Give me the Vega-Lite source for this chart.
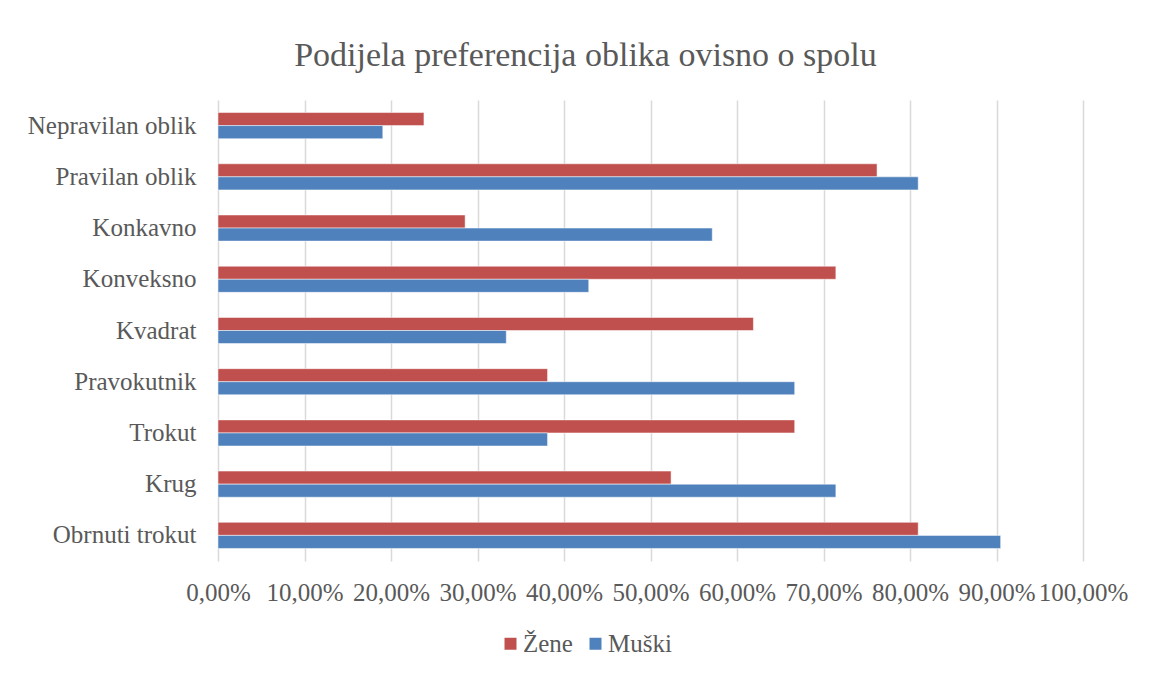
{
  "$schema": "https://vega.github.io/schema/vega-lite/v6.json",
  "autosize": {"type": "none"},
  "width": 865,
  "height": 461,
  "padding": {"left": 218, "top": 100, "right": 67, "bottom": 116},
  "background": "white",
  "title": {
    "text": "Podijela preferencija oblika ovisno o spolu",
    "font": "Liberation Serif",
    "fontSize": 34,
    "fontWeight": "normal",
    "color": "#595959",
    "anchor": "middle",
    "frame": "group",
    "dx": -65,
    "offset": 27
  },
  "data": {
    "values": [
      {"oblik": "Nepravilan oblik", "spol": "Žene", "vrijednost": 0.2381},
      {"oblik": "Nepravilan oblik", "spol": "Muški", "vrijednost": 0.1905},
      {"oblik": "Pravilan oblik", "spol": "Žene", "vrijednost": 0.7619},
      {"oblik": "Pravilan oblik", "spol": "Muški", "vrijednost": 0.8095},
      {"oblik": "Konkavno", "spol": "Žene", "vrijednost": 0.2857},
      {"oblik": "Konkavno", "spol": "Muški", "vrijednost": 0.5714},
      {"oblik": "Konveksno", "spol": "Žene", "vrijednost": 0.7143},
      {"oblik": "Konveksno", "spol": "Muški", "vrijednost": 0.4286},
      {"oblik": "Kvadrat", "spol": "Žene", "vrijednost": 0.619},
      {"oblik": "Kvadrat", "spol": "Muški", "vrijednost": 0.3333},
      {"oblik": "Pravokutnik", "spol": "Žene", "vrijednost": 0.381},
      {"oblik": "Pravokutnik", "spol": "Muški", "vrijednost": 0.6667},
      {"oblik": "Trokut", "spol": "Žene", "vrijednost": 0.6667},
      {"oblik": "Trokut", "spol": "Muški", "vrijednost": 0.381},
      {"oblik": "Krug", "spol": "Žene", "vrijednost": 0.5238},
      {"oblik": "Krug", "spol": "Muški", "vrijednost": 0.7143},
      {"oblik": "Obrnuti trokut", "spol": "Žene", "vrijednost": 0.8095},
      {"oblik": "Obrnuti trokut", "spol": "Muški", "vrijednost": 0.9048}
    ]
  },
  "mark": {"type": "bar", "stroke": "white", "strokeWidth": 0.5},
  "encoding": {
    "y": {
      "field": "oblik",
      "type": "nominal",
      "sort": null,
      "scale": {"paddingInner": 0.49, "paddingOuter": 0.245},
      "axis": {
        "title": null,
        "domain": false,
        "ticks": false,
        "grid": false,
        "labelFont": "Liberation Serif",
        "labelFontSize": 25,
        "labelColor": "#595959",
        "labelPadding": 22
      }
    },
    "yOffset": {"field": "spol", "type": "nominal", "sort": ["Žene", "Muški"]},
    "x": {
      "field": "vrijednost",
      "type": "quantitative",
      "scale": {"domain": [0, 1], "nice": false},
      "axis": {
        "title": null,
        "domain": false,
        "ticks": false,
        "values": [0, 0.1, 0.2, 0.3, 0.4, 0.5, 0.6, 0.7, 0.8, 0.9, 1],
        "labelExpr": "replace(format(datum.value, '.2%'), '.', ',')",
        "labelFlush": false,
        "labelOverlap": false,
        "labelFont": "Liberation Serif",
        "labelFontSize": 25,
        "labelColor": "#595959",
        "labelPadding": 19,
        "gridColor": "#D9D9D9",
        "gridWidth": 1.5
      }
    },
    "color": {
      "field": "spol",
      "type": "nominal",
      "scale": {"domain": ["Žene", "Muški"], "range": ["#C0504D", "#4F81BD"]},
      "legend": {
        "title": null,
        "orient": "none",
        "direction": "horizontal",
        "legendX": 280,
        "legendY": 531,
        "symbolType": "square",
        "symbolSize": 144,
        "symbolStrokeWidth": 0,
        "labelFont": "Liberation Serif",
        "labelFontSize": 25,
        "labelColor": "#595959",
        "labelOffset": 0,
        "columnPadding": 10
      }
    }
  },
  "config": {"view": {"stroke": null}}
}
